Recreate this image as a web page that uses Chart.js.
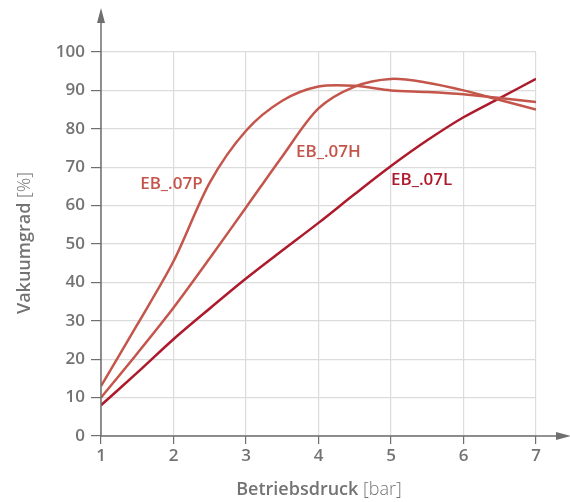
<!DOCTYPE html>
<html>
<head>
<meta charset="utf-8">
<script src="https://cdn.jsdelivr.net/npm/chart.js@4"></script>
<style>
  html, body { margin: 0; padding: 0; background: #fff; }
  #wrap { width: 570px; height: 502px; }
</style>
</head>
<body>
<div id="wrap"><canvas id="chartVakuum"></canvas></div>
<script>
// Betriebsdruck [bar]
const pressure = [1, 1.5, 2, 2.5, 3, 3.5, 4, 4.5, 5, 5.5, 6, 6.5, 7];
// Vakuumgrad [%]
const vacP = [13, 29, 45.5, 66, 79.5, 87.3, 91, 91.2, 90, 89.6, 89, 88, 87];
const vacH = [10, 21.5, 33.4, 46.3, 59.5, 72.8, 85.3, 91, 93, 92, 90, 87.5, 85];
const vacL = [8, 16.5, 25.2, 33.2, 41, 48.3, 55.5, 63, 70.3, 77, 83, 88, 93];
const seriesNames = ['EB_.07P', 'EB_.07H', 'EB_.07L'];

const colLight = '#c4554b';
const colDark = '#ad1a2c';
const axisGrey = '#6f6f6f';

function pts(ys) {
    return pressure.map((x, i) => ({ x: x, y: ys[i] }));
}

// axes with arrows, curve labels and axis titles
const decor = {
    id: 'decor',
    afterDraw(chart) {
        const ctx = chart.ctx;
        const xs = chart.scales.x, ys = chart.scales.y;
        const x0 = xs.getPixelForValue(1), y0 = ys.getPixelForValue(0);
        ctx.save();
        ctx.strokeStyle = axisGrey;
        ctx.fillStyle = axisGrey;
        ctx.lineWidth = 1.5;
        ctx.beginPath();
        ctx.moveTo(x0, y0 + 0.5);
        ctx.lineTo(x0, 20);
        ctx.moveTo(x0 - 0.5, y0);
        ctx.lineTo(558, y0);
        ctx.stroke();
        ctx.beginPath();
        ctx.moveTo(x0, 8); ctx.lineTo(x0 - 4, 23); ctx.lineTo(x0 + 4, 23); ctx.closePath();
        ctx.fill();
        ctx.beginPath();
        ctx.moveTo(571, y0); ctx.lineTo(556, y0 - 4); ctx.lineTo(556, y0 + 4); ctx.closePath();
        ctx.fill();

        // curve labels
        ctx.font = '600 17px "Open Sans"';
        ctx.textBaseline = 'middle';
        ctx.textAlign = 'left';
        const labels = [
            { t: seriesNames[0], x: 1.54, y: 65.6, c: colLight },
            { t: seriesNames[1], x: 3.69, y: 73.8, c: colLight },
            { t: seriesNames[2], x: 5.0, y: 66.5, c: colDark }
        ];
        labels.forEach(l => {
            ctx.fillStyle = l.c;
            ctx.fillText(l.t, xs.getPixelForValue(l.x), ys.getPixelForValue(l.y));
        });

        // axis titles
        ctx.fillStyle = '#737373';
        ctx.textBaseline = 'middle';
        const bold = '600 18px "Open Sans"', light = '300 18px "Open Sans"';
        function mixed(a, b, cx, cy) {
            ctx.font = bold; const wa = ctx.measureText(a).width;
            ctx.font = light; const wb = ctx.measureText(b).width;
            let sx = cx - (wa + wb) / 2;
            ctx.textAlign = 'left';
            ctx.font = bold; ctx.fillText(a, sx, cy);
            ctx.font = light; ctx.fillText(b, sx + wa, cy);
        }
        mixed('Betriebsdruck ', '[bar]', 319, 490);
        ctx.translate(25, 243);
        ctx.rotate(-Math.PI / 2);
        mixed('Vakuumgrad ', '[%]', 0, 0);
        ctx.restore();
    }
};

new Chart('chartVakuum', {
    type: 'line',
    data: {
        datasets: [
            { label: seriesNames[0], data: pts(vacP), borderColor: colLight, borderWidth: 2.5 },
            { label: seriesNames[1], data: pts(vacH), borderColor: colLight, borderWidth: 2.5 },
            { label: seriesNames[2], data: pts(vacL), borderColor: colDark, borderWidth: 2.5 }
        ]
    },
    options: {
        responsive: true,
        maintainAspectRatio: false,
        animation: false,
        elements: { point: { radius: 0 }, line: { tension: 0.3 } },
        layout: { padding: { left: 0, top: 52, right: 34, bottom: 0 } },
        plugins: { legend: { display: false }, tooltip: { enabled: false } },
        scales: {
            x: {
                type: 'linear', min: 1, max: 7,
                afterFit: s => { s.height = 66; },
                ticks: { stepSize: 1, color: '#737373', font: { family: 'Open Sans', size: 17, weight: '600' }, padding: 2 },
                grid: { color: '#dcdcdc', tickColor: axisGrey, tickLength: 8, lineWidth: 1.2 },
                border: { display: false }
            },
            y: {
                min: 0, max: 100,
                afterFit: s => { s.width = 101; },
                ticks: { stepSize: 10, color: '#737373', font: { family: 'Open Sans', size: 17, weight: '600' }, padding: 6 },
                grid: { color: '#dcdcdc', tickColor: axisGrey, tickLength: 10, lineWidth: 1.2 },
                border: { display: false }
            }
        }
    },
    plugins: [decor]
});
</script>
</body>
</html>
